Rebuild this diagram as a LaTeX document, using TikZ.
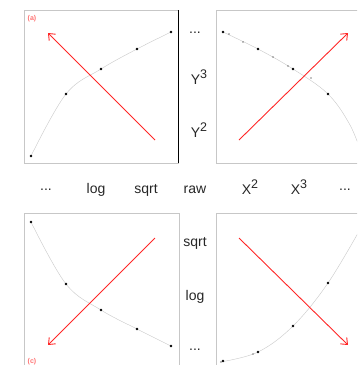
\documentclass[tikz,border=0pt]{standalone}
\usepackage{fontspec}
\setmainfont{Liberation Sans}
\usetikzlibrary{arrows.meta}
\newcommand{\supr}[1]{\raisebox{5.5pt}{\fontsize{12.5}{13}\selectfont #1}}
\begin{document}
\begin{tikzpicture}[x=1pt,y=-1pt,
  panel/.style={draw=black!22,line width=0.8pt},
  curve/.style={draw=black!20,line width=0.45pt},
  pt/.style={fill=black,circle,inner sep=0pt,minimum size=2.6pt},
  smallpt/.style={fill=black,circle,inner sep=0pt,minimum size=1.3pt},
  redarrow/.style={draw=red!85!white,line width=0.9pt,-{Straight Barb[length=5.5pt,width=9pt,line width=0.9pt]}},
  lab/.style={font=\fontsize{14}{16}\selectfont,text=black!85,inner sep=0pt},
  tag/.style={font=\fontsize{7}{8}\selectfont\bfseries,text=red!55!white,inner sep=0pt}]
\useasboundingbox (0,0) rectangle (357,365);
\begin{scope}
\clip (0,0) rectangle (357,365);
% panels
\draw[panel] (24,10) rectangle (178,163);
\draw[panel] (216,10) -- (360,10);
\draw[panel] (216,10) -- (216,163) -- (360,163);
\draw[panel] (24,370) -- (24,213) -- (179,213) -- (179,370);
\draw[panel] (216,370) -- (216,213) -- (360,213);
\draw[black,line width=0.9pt] (178,10) -- (178,163);
% curves
\draw[curve] plot[smooth,tension=0.6] coordinates {(31,156) (66,94) (101,69) (137,49) (171,32)};
\draw[curve] plot[smooth,tension=0.6] coordinates {(223,32) (258,49) (293,69) (328,94) (350,125) (362,155)};
\draw[curve] plot[smooth,tension=0.6] coordinates {(31,222) (66,284) (101,310) (137,329) (171,346)};
\draw[curve] plot[smooth,tension=0.6] coordinates {(220,362) (258,352) (293,326) (328,283) (362,226)};
% points
\foreach \n/\p in {a1/{(31,156)},a2/{(66,94)},a3/{(101,69)},a4/{(137,49)},a5/{(171,32)},
  b1/{(223,32)},b2/{(258,49)},b3/{(293,69)},b4/{(328,94)},
  c1/{(31,222)},c2/{(66,284)},c3/{(101,310)},c4/{(137,329)},c5/{(171,346)},
  d1/{(223,361)},d2/{(258,352)},d3/{(293,326)},d4/{(328,283)}}
  \node[pt] (\n) at \p {};
\foreach \n/\p in {e1/{(229,34)},e2/{(243,42)},e3/{(273,57)},e4/{(288,66)},e5/{(311,78)},e6/{(221,362)},e7/{(253,354)}}
  \node[smallpt] (\n) at \p {};
% arrows
\coordinate (as) at (155,140); \coordinate (ae) at (48,33);
\coordinate (bs) at (239,140); \coordinate (be) at (348,33);
\coordinate (cs) at (155,238); \coordinate (ce) at (48,345);
\coordinate (ds) at (239,238); \coordinate (de) at (348,345);
\draw[redarrow] (as) -- (ae);
\draw[redarrow] (bs) -- (be);
\draw[redarrow] (cs) -- (ce);
\draw[redarrow] (ds) -- (de);
% tags
\node[tag] (ta) at (32,19) {(a)};
\node[tag] (tc) at (32,362) {(c)};
\end{scope}
% labels
\node[lab] (l1) at (46,190) {...};
\node[lab] (l2) at (96,190) {log};
\node[lab] (l3) at (146,190) {sqrt};
\node[lab] (l4) at (195,190) {raw};
\node[lab] (l5) at (250,187) {X\supr{2}};
\node[lab] (l6) at (299,187) {X\supr{3}};
\node[lab] (l7) at (345,190) {...};
\node[lab] (r1) at (195,33) {...};
\node[lab] (r2) at (199,77) {Y\supr{3}};
\node[lab] (r3) at (199,130) {Y\supr{2}};
\node[lab] (s1) at (195,243) {sqrt};
\node[lab] (s2) at (195,297) {log};
\node[lab] (s3) at (195,350) {...};
\end{tikzpicture}
\end{document}
